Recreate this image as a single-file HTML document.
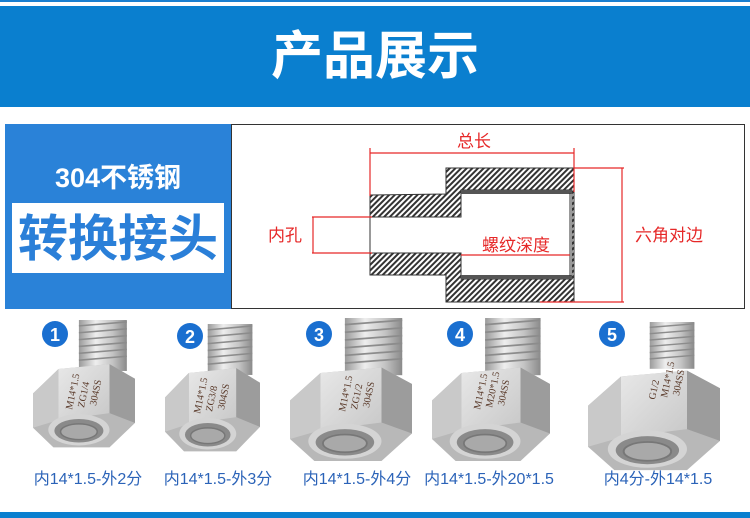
<!DOCTYPE html>
<html><head><meta charset="utf-8"><style>
html,body{margin:0;padding:0;background:#fff;}
body{width:750px;height:518px;overflow:hidden;position:relative;font-family:"Liberation Sans","Noto Sans CJK SC",sans-serif;}
</style></head><body>
<svg width="750" height="518" viewBox="0 0 750 518" xmlns="http://www.w3.org/2000/svg" style="position:absolute;left:0;top:0">
<defs>
<pattern id="hatch" width="4" height="4" patternUnits="userSpaceOnUse" patternTransform="rotate(45)">
<rect width="4" height="4" fill="#fff"/><rect width="2" height="4" fill="#333"/>
</pattern>
<linearGradient id="thr" x1="0" x2="1" y1="0" y2="0">
<stop offset="0" stop-color="#9a9a9a"/><stop offset="0.35" stop-color="#eeeeee"/><stop offset="0.7" stop-color="#c4c4c4"/><stop offset="1" stop-color="#8a8a8a"/>
</linearGradient>
<linearGradient id="face" x1="0" x2="1" y1="0" y2="1">
<stop offset="0" stop-color="#e8e8e8"/><stop offset="1" stop-color="#c8c8c8"/>
</linearGradient>
<g id="thread">
<rect x="45" y="0" width="47" height="52" fill="url(#thr)"/>
<g stroke="#8c8c8c" stroke-width="1.6">
<line x1="45" y1="6" x2="92" y2="2"/><line x1="45" y1="13" x2="92" y2="9"/><line x1="45" y1="20" x2="92" y2="16"/><line x1="45" y1="27" x2="92" y2="23"/><line x1="45" y1="34" x2="92" y2="30"/><line x1="45" y1="41" x2="92" y2="37"/>
</g>
</g>
<g id="body">
<polygon points="0,75 25,50 75,45 100,60 100,105 75,130 20,130 0,110" fill="#b8b8b8"/>
<polygon points="25,50 75,45 75,95 25,102" fill="url(#face)"/>
<polygon points="75,45 100,60 100,105 75,95" fill="#9c9c9c"/>
<polygon points="0,75 25,50 25,102 0,110" fill="#c9c9c9"/>
<ellipse cx="45" cy="112" rx="30" ry="16" fill="#d4d4d4"/>
<ellipse cx="45" cy="113" rx="24" ry="12" fill="#8a8a8a"/>
<ellipse cx="45" cy="114" rx="18" ry="8" fill="#a9a9a9" stroke="#777" stroke-width="1.5"/>
</g>
<g id="fit"><use href="#thread"/><use href="#body"/></g>
</defs>

<rect x="0" y="0" width="750" height="2" fill="#1a7fd0"/>
<rect x="0" y="6" width="750" height="101" fill="#0a7fcf"/>
<text x="375" y="74" text-anchor="middle" font-size="52" fill="#fff" font-weight="bold">产品展示</text>

<rect x="5" y="124" width="226" height="185" fill="#2a82d8"/>
<text x="118" y="187" text-anchor="middle" font-size="27" fill="#fff" font-weight="bold">304不锈钢</text>
<rect x="12" y="203" width="212" height="70" fill="#fff"/>
<text x="118" y="256" text-anchor="middle" font-size="50" fill="#2a7fd8" font-weight="bold">转换接头</text>

<rect x="231.5" y="124.5" width="513" height="184" fill="#fff" stroke="#333" stroke-width="1"/>

<path d="M370,195 L446,194 L446,168 L574,168 L574,302 L446,302 L446,275 L370,275 Z M370,217 L370,253 L461,253 L461,279 L572,279 L572,190 L461,190 L461,217 Z" fill="url(#hatch)" fill-rule="evenodd" stroke="#333" stroke-width="1"/>
<rect x="461" y="190" width="111" height="4" fill="#555"/>
<rect x="461" y="275" width="111" height="4" fill="#555"/>
<line x1="370" y1="217" x2="370" y2="253" stroke="#333"/>
<line x1="570" y1="193" x2="570" y2="276" stroke="#333"/>

<g stroke="#e62828" stroke-width="1.2" fill="none">
<line x1="370" y1="153" x2="574" y2="153"/>
<line x1="370" y1="148" x2="370" y2="196"/>
<line x1="574" y1="148" x2="574" y2="192"/>
<line x1="312" y1="217" x2="372" y2="217"/>
<line x1="312" y1="253" x2="372" y2="253"/>
<line x1="313" y1="217" x2="313" y2="253"/>
<line x1="461" y1="255" x2="570" y2="255"/>
<line x1="574" y1="168" x2="624" y2="168"/>
<line x1="540" y1="302" x2="624" y2="302"/>
<line x1="622" y1="168" x2="622" y2="302"/>
</g>
<g fill="#e62828" font-size="17">
<text x="474" y="147" text-anchor="middle">总长</text>
<text x="285" y="241" text-anchor="middle">内孔</text>
<text x="516" y="251" text-anchor="middle">螺纹深度</text>
<text x="669" y="241" text-anchor="middle">六角对边</text>
</g>

<use href="#fit" transform="translate(33,320) scale(1.02,0.98)"/>
<use href="#fit" transform="translate(165,324) scale(0.95,0.98)"/>
<use href="#fit" transform="translate(290,318) scale(1.22,1.1)"/>
<use href="#fit" transform="translate(432,318) scale(1.18,1.1)"/>
<use href="#thread" transform="translate(607,322) scale(0.95,0.9)"/>
<use href="#body" transform="translate(588,318) scale(1.32,1.17)"/>

<g fill="#5a3a2a" font-size="10" font-family="Liberation Serif, serif">
<text transform="translate(72,410) rotate(-78)">M14*1.5</text>
<text transform="translate(84,408) rotate(-78)">ZG1/4</text>
<text transform="translate(96,406) rotate(-78)">304SS</text>
<text transform="translate(200,414) rotate(-78)">M14*1.5</text>
<text transform="translate(212,412) rotate(-78)">ZG3/8</text>
<text transform="translate(224,410) rotate(-78)">304SS</text>
<text transform="translate(345,412) rotate(-78)">M14*1.5</text>
<text transform="translate(357,410) rotate(-78)">ZG1/2</text>
<text transform="translate(369,408) rotate(-78)">304SS</text>
<text transform="translate(480,410) rotate(-78)">M14*1.5</text>
<text transform="translate(492,408) rotate(-78)">M20*1.5</text>
<text transform="translate(504,406) rotate(-78)">304SS</text>
<text transform="translate(655,400) rotate(-78)">G1/2</text>
<text transform="translate(667,398) rotate(-78)">M14*1.5</text>
<text transform="translate(679,396) rotate(-78)">304SS</text>
</g>

<g font-size="18" font-weight="bold" fill="#fff" text-anchor="middle">
<circle cx="55" cy="334" r="13" fill="#1a6fd0"/><text x="55" y="341">1</text>
<circle cx="190" cy="336" r="13" fill="#1a6fd0"/><text x="190" y="343">2</text>
<circle cx="319" cy="334" r="13" fill="#1a6fd0"/><text x="319" y="341">3</text>
<circle cx="460" cy="334" r="13" fill="#1a6fd0"/><text x="460" y="341">4</text>
<circle cx="612" cy="334" r="13" fill="#1a6fd0"/><text x="612" y="341">5</text>
</g>

<g fill="#2b63b8" font-size="16" text-anchor="middle">
<text x="88" y="484">内14*1.5-外2分</text>
<text x="218" y="484">内14*1.5-外3分</text>
<text x="357" y="484">内14*1.5-外4分</text>
<text x="489" y="484">内14*1.5-外20*1.5</text>
<text x="658" y="484">内4分-外14*1.5</text>
</g>

<rect x="0" y="512" width="750" height="6" fill="#0a7fcf"/>
</svg>
</body></html>
